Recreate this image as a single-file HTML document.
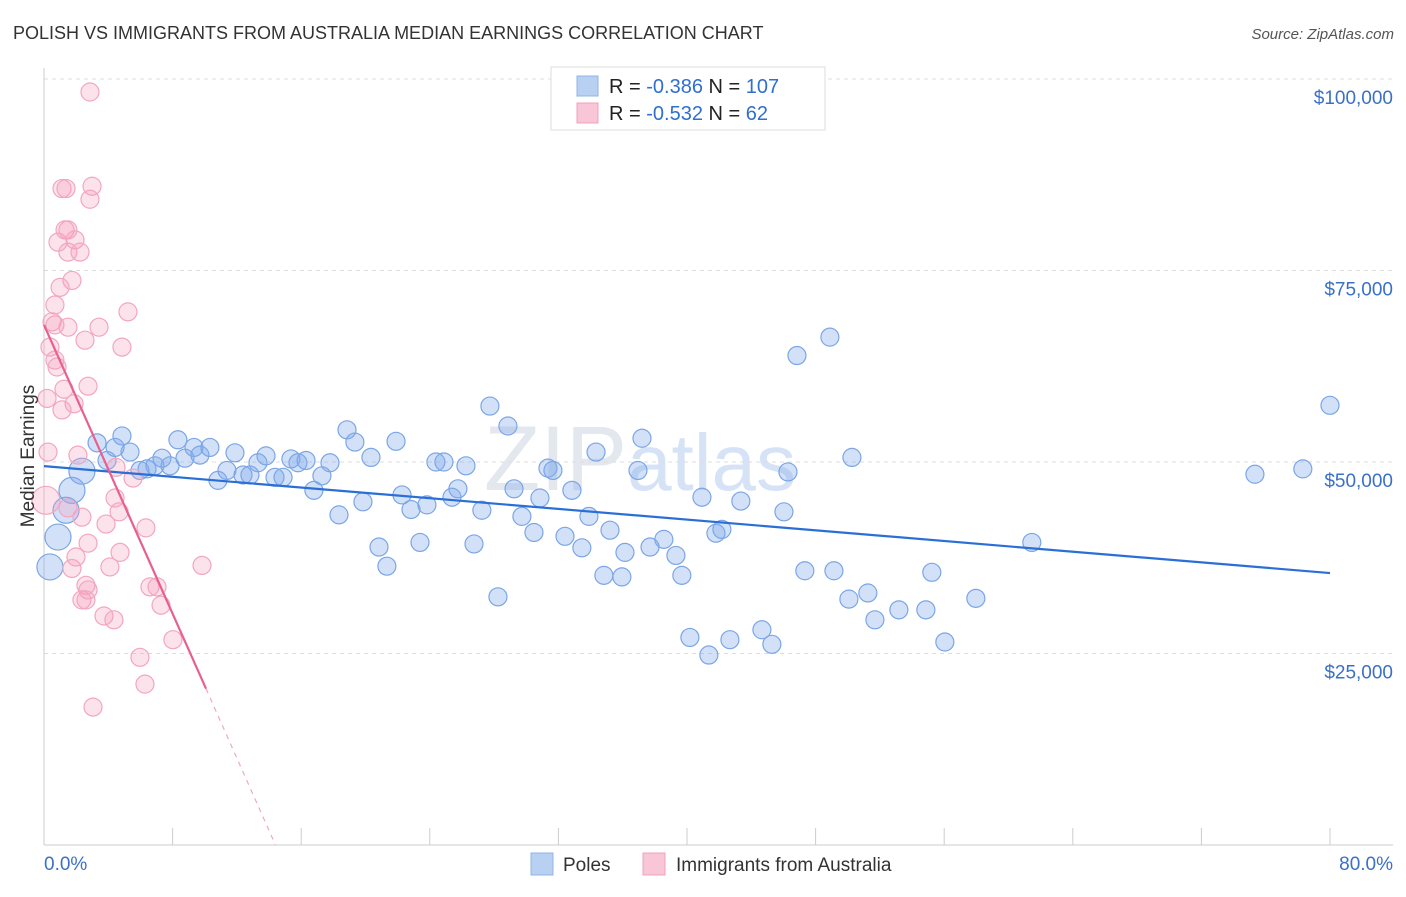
<!DOCTYPE html>
<html><head><meta charset="utf-8"><style>
body{margin:0;background:#fff;font-family:"Liberation Sans",sans-serif;}
svg text{font-family:"Liberation Sans",sans-serif;}
</style></head><body>
<svg id="chart" width="1406" height="892" xmlns="http://www.w3.org/2000/svg">
<text x="13" y="39" font-size="18" fill="#333">POLISH VS IMMIGRANTS FROM AUSTRALIA MEDIAN EARNINGS CORRELATION CHART</text>
<text x="1394" y="39" font-size="15" fill="#555" font-style="italic" text-anchor="end">Source: ZipAtlas.com</text>
<text x="640" y="490" font-size="92" fill="#e3e7ee" font-family="Liberation Serif" text-anchor="middle">ZIP<tspan fill="#d6e3f6" font-family="Liberation Sans" font-size="80">atlas</tspan></text>
<g id="grid"></g>
<g id="axes"></g>
<g id="points"></g>
<g id="trends"></g>
<text transform="translate(34,456) rotate(-90)" font-size="19" fill="#333" text-anchor="middle">Median Earnings</text>
<text x="44" y="870" font-size="19" fill="#3a70c8">0.0%</text>
<text x="1393" y="870" font-size="19" fill="#3a70c8" text-anchor="end">80.0%</text>
<g>
<rect x="551" y="67" width="274" height="63" fill="#fff" stroke="#ddd"/>
<rect x="577" y="76" width="21" height="20" fill="#b8d1f3" stroke="#8fb4e8"/>
<rect x="577" y="103" width="21" height="20" fill="#f8c6d6" stroke="#f0a0bd"/>
<text x="609" y="93" font-size="20" fill="#222">R = <tspan fill="#2f6fd0">-0.386</tspan>   N = <tspan fill="#2f6fd0">107</tspan></text>
<text x="609" y="120" font-size="20" fill="#222">R = <tspan fill="#2f6fd0">-0.532</tspan>   N = <tspan fill="#2f6fd0">  62</tspan></text>
</g>
<g>
<rect x="531" y="853" width="22" height="22" fill="#b8d1f3" stroke="#8fb4e8"/>
<text x="563" y="871" font-size="19" fill="#333">Poles</text>
<rect x="643" y="853" width="22" height="22" fill="#f8c6d6" stroke="#f0a0bd"/>
<text x="676" y="871" font-size="19" fill="#333">Immigrants from Australia</text>
</g>
</svg>
<script>
const yTicks=[25000,50000,75000,100000];
const yTickLabels=["$25,000","$50,000","$75,000","$100,000"];
const xTicks=[0,8,16,24,32,40,48,56,64,72,80];
const polesX=[0.37,0.87,1.37,1.74,2.36,3.3,3.92,4.42,4.85,5.35,5.97,6.41,6.9,7.34,7.84,8.33,8.77,9.33,9.7,10.32,10.82,11.38,11.88,12.38,12.81,13.31,13.81,14.37,14.87,15.36,15.8,16.3,16.79,17.29,17.79,18.35,18.85,19.34,19.84,20.34,20.84,21.33,21.9,22.27,22.83,23.39,23.82,24.38,24.88,25.38,25.75,26.25,26.75,27.24,27.74,28.24,28.86,29.24,29.73,30.48,30.85,31.35,31.66,32.41,32.84,33.46,33.9,34.34,34.83,35.21,35.95,36.14,36.95,37.2,37.7,38.56,39.31,39.68,40.18,40.93,41.36,41.8,42.17,42.67,43.35,44.66,45.28,46.03,46.28,46.84,47.33,48.89,49.14,50.07,50.26,51.25,51.69,53.18,54.86,55.23,56.04,57.97,61.45,75.33,78.31,80.0];
const polesY=[36.3,40.2,43.7,46.3,48.8,52.5,50.2,51.9,53.4,51.3,48.9,49.1,49.5,50.5,49.5,52.9,50.5,51.9,50.9,51.9,47.6,48.9,51.2,48.3,48.3,49.9,50.8,48.0,48.0,50.4,49.9,50.2,46.3,48.2,49.9,43.1,54.2,52.6,44.8,50.6,38.9,36.4,52.7,45.7,43.8,39.5,44.4,50.0,50.0,45.4,46.5,49.5,39.3,43.7,57.3,32.4,54.7,46.5,42.9,40.8,45.3,49.2,48.9,40.3,46.3,38.8,42.9,51.3,35.2,41.1,35.0,38.2,48.9,53.1,38.9,39.9,37.8,35.2,27.1,45.4,24.8,40.7,41.2,26.8,44.9,28.1,26.2,43.5,48.7,63.9,35.8,66.3,35.8,32.1,50.6,32.9,29.4,30.7,30.7,35.6,26.5,32.2,39.5,48.4,49.1,57.4];
const polesBig=[1,1,1,1,1];
const ausX=[2.86,2.99,1.12,1.37,2.86,1.31,1.49,0.87,1.93,1.49,2.24,1.74,1.0,0.68,5.22,0.5,0.68,1.49,3.42,2.55,4.85,0.37,0.68,0.81,1.24,2.74,0.19,1.12,1.87,0.25,2.11,4.48,5.54,0.12,1.49,2.36,4.42,4.67,3.86,6.34,2.74,4.73,1.99,1.74,4.1,9.83,2.61,2.74,6.59,7.03,2.36,2.61,3.73,4.35,7.28,8.02,5.97,6.28,3.05];
const ausY=[98.3,86.0,85.7,85.7,84.3,80.3,80.3,78.7,79.0,77.4,77.4,73.7,72.8,70.5,69.6,68.3,67.9,67.6,67.6,65.9,65.0,65.0,63.3,62.4,59.5,59.9,58.3,56.8,57.6,51.3,50.9,49.3,47.9,45.0,44.0,42.8,45.3,43.5,41.9,41.4,39.4,38.2,37.6,36.1,36.3,36.5,33.9,33.3,33.7,33.7,32.0,32.0,29.9,29.4,31.3,26.8,24.5,21.0,18.0];
const polesTrend=[[0,49.46],[80,35.5]];
const ausTrendSolid=[[0,67.9],[10.08,20.4]];
const ausTrendDash=[[10.08,20.4],[14.4,0]];
const X0=44,X1=1330,Ybase=845,Ypx=191.5/25;
const sx=v=>X0+(X1-X0)*v/80;
const sy=v=>Ybase-v*Ypx;
const NS="http://www.w3.org/2000/svg";
function mk(t,a,p){const e=document.createElementNS(NS,t);for(const k in a)e.setAttribute(k,a[k]);p.appendChild(e);return e;}
const grid=document.getElementById('grid'),axes=document.getElementById('axes'),pts=document.getElementById('points'),tr=document.getElementById('trends');
yTicks.forEach((v,i)=>{
 const l=mk('line',{x1:44,x2:1393,y1:sy(v/1000),y2:sy(v/1000),stroke:'#dcdcdc','stroke-dasharray':'4,4'},grid);
 
 
 const t=mk('text',{x:1393,y:sy(v/1000)+25,'font-size':19,fill:'#3a70c8','text-anchor':'end'},grid);
 t.textContent=yTickLabels[i];
 
 
});
const ya=mk('line',{x1:44,x2:44,y1:68,y2:845,stroke:'#ccc'},axes);


const xa=mk('line',{x1:44,x2:1393,y1:845,y2:845,stroke:'#ccc'},axes);


xTicks.forEach(v=>{
 const t=mk('line',{x1:sx(v),x2:sx(v),y1:828,y2:845,stroke:'#ccc'},axes);
 
 
});
polesX.forEach((x,i)=>{
 const big=i<polesBig.length;
 const c=mk('circle',{cx:sx(x),cy:sy(polesY[i]),r:big?13:9,fill:'rgba(130,170,235,0.35)',stroke:'#7aa6e6','stroke-width':1.2},pts);
 
 
});
ausX.forEach((x,i)=>{
 const big=i===33;
 const c=mk('circle',{cx:sx(x),cy:sy(ausY[i]),r:big?14:9,fill:'rgba(245,160,190,0.3)',stroke:'#f2a6c0','stroke-width':1.2},pts);
 
 
});
const pl=mk('line',{x1:sx(polesTrend[0][0]),y1:sy(polesTrend[0][1]),x2:sx(polesTrend[1][0]),y2:sy(polesTrend[1][1]),stroke:'#2a6fd6','stroke-width':2.2},tr);


const al=mk('line',{x1:sx(ausTrendSolid[0][0]),y1:sy(ausTrendSolid[0][1]),x2:sx(ausTrendSolid[1][0]),y2:sy(ausTrendSolid[1][1]),stroke:'#e8608f','stroke-width':2.2},tr);


const ad=mk('line',{x1:sx(ausTrendDash[0][0]),y1:sy(ausTrendDash[0][1]),x2:sx(ausTrendDash[1][0]),y2:sy(ausTrendDash[1][1]),stroke:'#f2a6c0','stroke-width':1.2,'stroke-dasharray':'5,5'},tr);


</script>
</body></html>
